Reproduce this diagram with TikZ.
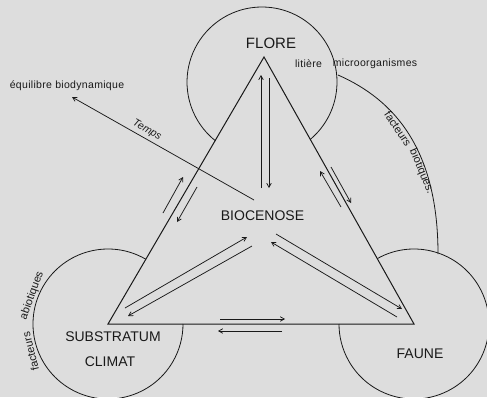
\documentclass[tikz,border=0pt]{standalone}
\usepackage{fontspec}
\setmainfont{Liberation Sans}
\newfontfamily\smallfont[LetterSpace=3]{Liberation Sans}
\newfontfamily\wordfont{Liberation Sans}
\usetikzlibrary{arrows.meta}
\definecolor{bg}{RGB}{221,221,221}
\definecolor{ink}{RGB}{25,25,25}
\begin{document}
\begin{tikzpicture}[x=1pt,y=-1pt,
  edge/.style={draw=ink,line width=1pt,line join=miter},
  ring/.style={draw=ink,line width=0.8pt},
  flow/.style={draw=ink,line width=0.75pt,-{Straight Barb[length=4pt,width=4.5pt]}},
  big/.style={font=\fontsize{14}{16}\selectfont,text=ink,inner sep=0pt},
  small/.style={font=\smallfont\fontsize{10.5}{12}\selectfont,text=ink,inner sep=0pt},
  curveword/.style={font=\wordfont\fontsize{11}{12}\selectfont,text=ink,inner sep=0pt}]
\useasboundingbox (0,0) rectangle (487,397);
\fill[bg] (0,0) rectangle (487,397);
% vertices and circle centres
\coordinate (T) at (264,57);
\coordinate (L) at (108,324);
\coordinate (R) at (414,324);
\coordinate (Fc) at (262,82);
% circles (outside the triangle)
\draw[ring] ([shift={(49.6:75)}]Fc) arc[start angle=49.6, end angle=-231.7, radius=75];
\draw[ring] ([shift={(-59.7:75)}]L) arc[start angle=-59.7, end angle=-360, radius=75];
\draw[ring] ([shift={(-119.2:75)}]R) arc[start angle=-119.2, end angle=180, radius=75];
% triangle
\draw[edge] (T) -- (L) -- (R) -- cycle;
% labels
\node[big,font=\fontsize{15}{17}\selectfont] (flore) at (271,43) {FLORE};
\node[big] (bio) at (262.5,216) {BIOCENOSE};
\node[big] (sub) at (113,337) {SUBSTRATUM};
\node[big] (cli) at (110,362) {CLIMAT};
\node[big] (fau) at (420,354) {FAUNE};
\node[small] (eq) at (67,86) {équilibre biodynamique};
\node[small] (lit) at (308.5,64) {litière};
\node[small] (mic) at (375,64) {microorganismes};
% facteurs biotiques
\coordinate (b0) at (338,75);
\coordinate (b1) at (438,254);
\draw[ring] (b0) .. controls (395,100) and (438,150) .. (b1);
\node[curveword,rotate=-56] (fb1w) at (398,128.5) {facteurs};
\node[curveword,rotate=-67] (fb2w) at (421.5,171.5) {biotiques.};
% facteurs abiotiques
\node[curveword,rotate=104] (fa1w) at (30.5,351.5) {facteurs};
\node[curveword,rotate=70] (fa2w) at (32,295.5) {abiotiques};
% arrow end points
\coordinate (fa1) at (261,188); \coordinate (fa2) at (261,75);
\coordinate (fb1) at (269,78);  \coordinate (fb2) at (269,188);
\coordinate (la1) at (163,213); \coordinate (la2) at (183,177);
\coordinate (lb1) at (197,187); \coordinate (lb2) at (177,222);
\coordinate (ra1) at (331,167); \coordinate (ra2) at (351,203);
\coordinate (rb1) at (341,207); \coordinate (rb2) at (320,171);
\coordinate (sa1) at (125,308); \coordinate (sa2) at (247,237);
\coordinate (sb1) at (252,246); \coordinate (sb2) at (128,316);
\coordinate (ua1) at (276,234); \coordinate (ua2) at (402,309);
\coordinate (ub1) at (397,317); \coordinate (ub2) at (271,242);
\coordinate (ba1) at (220,319); \coordinate (ba2) at (285,319);
\coordinate (bb1) at (282,331); \coordinate (bb2) at (218,331);
\coordinate (t1) at (254,200);  \coordinate (t2) at (72,97);
\draw[flow] (fa1) -- (fa2);
\draw[flow] (fb1) -- (fb2);
\draw[flow] (la1) -- (la2);
\draw[flow] (lb1) -- (lb2);
\draw[flow] (ra1) -- (ra2);
\draw[flow] (rb1) -- (rb2);
\draw[flow] (sa1) -- (sa2);
\draw[flow] (sb1) -- (sb2);
\draw[flow] (ua1) -- (ua2);
\draw[flow] (ub1) -- (ub2);
\draw[flow] (ba1) -- (ba2);
\draw[flow] (bb1) -- (bb2);
\draw[flow] (t1) -- (t2);
\node[curveword,font=\wordfont\itshape\fontsize{10.5}{12}\selectfont,rotate=-29.5] (temps) at (147,130) {Temps};
\end{tikzpicture}
\end{document}
